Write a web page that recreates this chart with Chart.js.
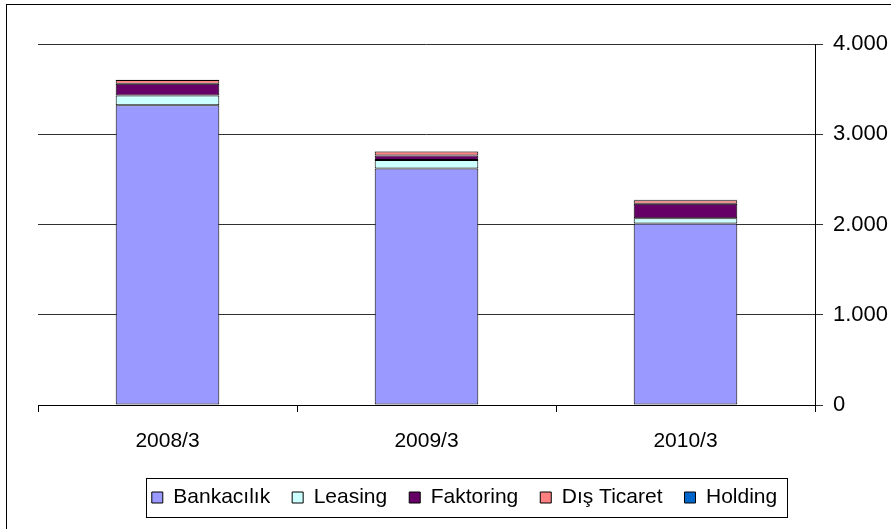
<!DOCTYPE html>
<html>
<head>
<meta charset="utf-8">
<script src="https://cdn.jsdelivr.net/npm/chart.js@4"></script>
<style>
  html, body { margin: 0; padding: 0; background: #fff; overflow: hidden; }
  #wrap { position: relative; width: 891px; height: 529px; }
</style>
</head>
<body>
<div id="wrap"><canvas id="myChart" width="891" height="529"></canvas></div>
<script>
// Data
const periods = ["2008/3", "2009/3", "2010/3"];
const bankacilik = [3320, 2620, 2010];
const leasing = [110, 95, 60];
const faktoring = [130, 50, 160];
const disTicaret = [40, 45, 40];
const holding = [3, 3, 3];
const yTicks = [0, 1000, 2000, 3000, 4000];

const font = "'Liberation Sans', Arial, sans-serif";

// format 4000 -> 4.000
function fmt(v) {
  return String(v).replace(/\B(?=(\d{3})+(?!\d))/g, ".");
}

// outer frame and the box round the legend
const framePlugin = {
  id: "frame",
  afterDraw(chart) {
    const ctx = chart.ctx;
    ctx.save();
    ctx.strokeStyle = "#000";
    ctx.lineWidth = 1;
    ctx.strokeRect(6.5, 4.5, 1000, 1000);
    const boxes = chart.legend.legendHitBoxes;
    if (boxes && boxes.length) {
      const left = Math.min(...boxes.map((b) => b.left)) - 6;
      const right = Math.max(...boxes.map((b) => b.left + b.width)) + 10;
      const top = Math.min(...boxes.map((b) => b.top)) - 9;
      const bottom = Math.max(...boxes.map((b) => b.top + b.height)) + 9;
      ctx.strokeStyle = "#000";
      ctx.strokeRect(Math.round(left) + 0.5, Math.round(top) + 0.5, Math.round(right - left), Math.round(bottom - top));
    }
    ctx.restore();
  },
};

function ds(label, data, color) {
  return {
    label: label,
    data: data,
    backgroundColor: color,
    borderColor: "#000",
    borderWidth: 1,
    borderSkipped: false,
    barPercentage: 0.4,
    categoryPercentage: 1,
  };
}

new Chart("myChart", {
  type: "bar",
  data: {
    labels: periods,
    datasets: [
      ds("Bankacılık", bankacilik, "#9999FF"),
      ds("Leasing", leasing, "#CCFFFF"),
      ds("Faktoring", faktoring, "#660066"),
      ds("Dış Ticaret", disTicaret, "#FF8080"),
      ds("Holding", holding, "#0066CC"),
    ],
  },
  options: {
    responsive: false,
    animation: false,
    layout: {
      padding: { left: 38, right: 0, top: 44, bottom: 11 },
    },
    plugins: {
      legend: {
        position: "bottom",
        labels: {
          color: "#000",
          boxWidth: 11,
          boxHeight: 11,
          padding: 22,
          font: { family: font, size: 21 },
        },
      },
      tooltip: { enabled: false },
    },
    scales: {
      x: {
        stacked: true,
        afterFit(scale) {
          scale.height = 60;
        },
        grid: {
          offset: true,
          drawOnChartArea: false,
          drawTicks: true,
          tickLength: 7,
          color: "#000",
        },
        border: { display: true, color: "#000" },
        ticks: {
          color: "#000",
          padding: 17,
          font: { family: font, size: 21 },
        },
      },
      y: {
        stacked: true,
        position: "right",
        min: 0,
        max: 4000,
        afterFit(scale) {
          scale.width = 76;
        },
        afterBuildTicks(scale) {
          scale.ticks = yTicks.map((v) => ({ value: v }));
        },
        grid: {
          color: "#303030",
          tickLength: 8,
        },
        border: { display: true, color: "#000" },
        ticks: {
          color: "#000",
          padding: 10,
          font: { family: font, size: 22 },
          callback: (v) => fmt(v),
        },
      },
    },
  },
  plugins: [framePlugin],
});
</script>
</body>
</html>
